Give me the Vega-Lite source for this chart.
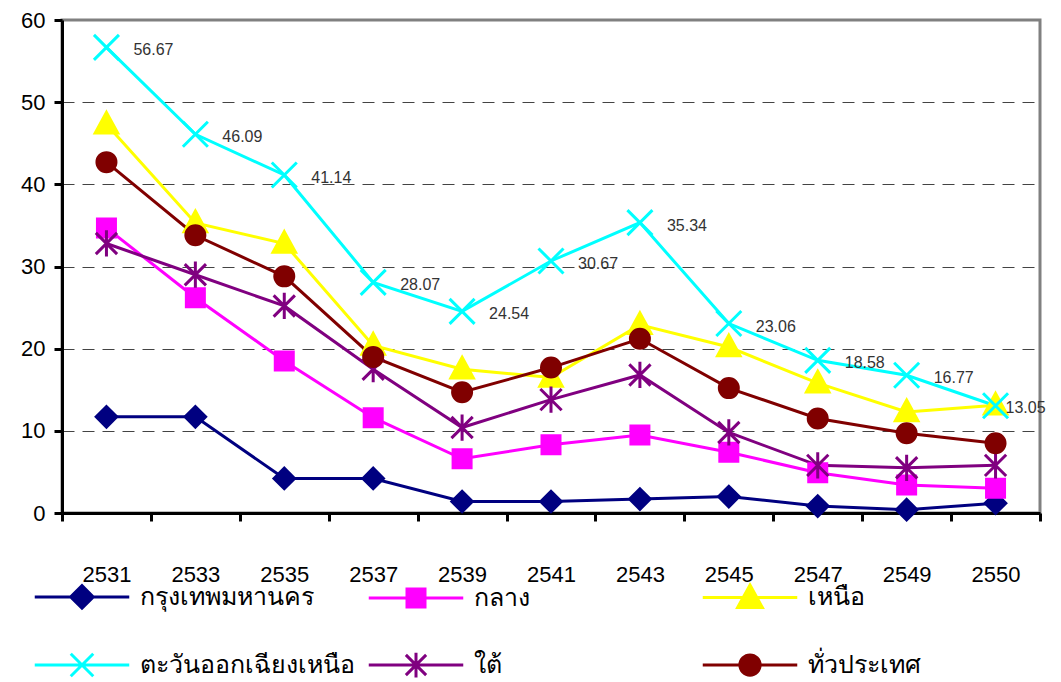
{
  "$schema": "https://vega.github.io/schema/vega-lite/v6.json",
  "width": 978,
  "height": 493,
  "autosize": {"type": "none"},
  "padding": {"left": 62, "top": 20, "right": 21, "bottom": 169},
  "background": "white",
  "config": {"font": "Liberation Sans", "view": {"stroke": "#808080", "strokeWidth": 3}},
  "data": {"values": [
    {"year": "2531", "region": "กรุงเทพมหานคร", "value": 11.7},
    {"year": "2533", "region": "กรุงเทพมหานคร", "value": 11.7},
    {"year": "2535", "region": "กรุงเทพมหานคร", "value": 4.2},
    {"year": "2537", "region": "กรุงเทพมหานคร", "value": 4.2},
    {"year": "2539", "region": "กรุงเทพมหานคร", "value": 1.4},
    {"year": "2541", "region": "กรุงเทพมหานคร", "value": 1.4},
    {"year": "2543", "region": "กรุงเทพมหานคร", "value": 1.7},
    {"year": "2545", "region": "กรุงเทพมหานคร", "value": 2.0},
    {"year": "2547", "region": "กรุงเทพมหานคร", "value": 0.85},
    {"year": "2549", "region": "กรุงเทพมหานคร", "value": 0.4},
    {"year": "2550", "region": "กรุงเทพมหานคร", "value": 1.2},
    {"year": "2531", "region": "กลาง", "value": 34.7},
    {"year": "2533", "region": "กลาง", "value": 26.2},
    {"year": "2535", "region": "กลาง", "value": 18.5},
    {"year": "2537", "region": "กลาง", "value": 11.6},
    {"year": "2539", "region": "กลาง", "value": 6.6},
    {"year": "2541", "region": "กลาง", "value": 8.3},
    {"year": "2543", "region": "กลาง", "value": 9.5},
    {"year": "2545", "region": "กลาง", "value": 7.4},
    {"year": "2547", "region": "กลาง", "value": 4.9},
    {"year": "2549", "region": "กลาง", "value": 3.4},
    {"year": "2550", "region": "กลาง", "value": 3.0},
    {"year": "2531", "region": "เหนือ", "value": 47.3},
    {"year": "2533", "region": "เหนือ", "value": 35.3},
    {"year": "2535", "region": "เหนือ", "value": 32.8},
    {"year": "2537", "region": "เหนือ", "value": 20.4},
    {"year": "2539", "region": "เหนือ", "value": 17.5},
    {"year": "2541", "region": "เหนือ", "value": 16.5},
    {"year": "2543", "region": "เหนือ", "value": 22.9},
    {"year": "2545", "region": "เหนือ", "value": 20.2},
    {"year": "2547", "region": "เหนือ", "value": 15.8},
    {"year": "2549", "region": "เหนือ", "value": 12.3},
    {"year": "2550", "region": "เหนือ", "value": 13.1},
    {"year": "2531", "region": "ตะวันออกเฉียงเหนือ", "value": 56.67},
    {"year": "2533", "region": "ตะวันออกเฉียงเหนือ", "value": 46.09},
    {"year": "2535", "region": "ตะวันออกเฉียงเหนือ", "value": 41.14},
    {"year": "2537", "region": "ตะวันออกเฉียงเหนือ", "value": 28.07},
    {"year": "2539", "region": "ตะวันออกเฉียงเหนือ", "value": 24.54},
    {"year": "2541", "region": "ตะวันออกเฉียงเหนือ", "value": 30.67},
    {"year": "2543", "region": "ตะวันออกเฉียงเหนือ", "value": 35.34},
    {"year": "2545", "region": "ตะวันออกเฉียงเหนือ", "value": 23.06},
    {"year": "2547", "region": "ตะวันออกเฉียงเหนือ", "value": 18.58},
    {"year": "2549", "region": "ตะวันออกเฉียงเหนือ", "value": 16.77},
    {"year": "2550", "region": "ตะวันออกเฉียงเหนือ", "value": 13.05},
    {"year": "2531", "region": "ใต้", "value": 32.8},
    {"year": "2533", "region": "ใต้", "value": 29.0},
    {"year": "2535", "region": "ใต้", "value": 25.2},
    {"year": "2537", "region": "ใต้", "value": 17.5},
    {"year": "2539", "region": "ใต้", "value": 10.4},
    {"year": "2541", "region": "ใต้", "value": 13.8},
    {"year": "2543", "region": "ใต้", "value": 16.8},
    {"year": "2545", "region": "ใต้", "value": 9.8},
    {"year": "2547", "region": "ใต้", "value": 5.8},
    {"year": "2549", "region": "ใต้", "value": 5.5},
    {"year": "2550", "region": "ใต้", "value": 5.8},
    {"year": "2531", "region": "ทั่วประเทศ", "value": 42.7},
    {"year": "2533", "region": "ทั่วประเทศ", "value": 33.8},
    {"year": "2535", "region": "ทั่วประเทศ", "value": 28.8},
    {"year": "2537", "region": "ทั่วประเทศ", "value": 19.0},
    {"year": "2539", "region": "ทั่วประเทศ", "value": 14.7},
    {"year": "2541", "region": "ทั่วประเทศ", "value": 17.7},
    {"year": "2543", "region": "ทั่วประเทศ", "value": 21.2},
    {"year": "2545", "region": "ทั่วประเทศ", "value": 15.2},
    {"year": "2547", "region": "ทั่วประเทศ", "value": 11.5},
    {"year": "2549", "region": "ทั่วประเทศ", "value": 9.7},
    {"year": "2550", "region": "ทั่วประเทศ", "value": 8.5}
  ]},
  "encoding": {
    "x": {
      "field": "year", "type": "ordinal",
      "scale": {"type": "band", "paddingInner": 0, "paddingOuter": 0},
      "axis": {"title": null, "tickBand": "extent", "tickSize": 8, "tickWidth": 3, "tickColor": "black", "domainColor": "black", "domainWidth": 3, "labelFontSize": 22, "labelColor": "black", "labelPadding": 43, "labelAngle": 0, "grid": false}
    },
    "y": {
      "field": "value", "type": "quantitative",
      "scale": {"domain": [0, 60], "nice": false},
      "axis": {"title": null, "values": [0, 10, 20, 30, 40, 50, 60], "tickSize": 8, "tickWidth": 3, "tickColor": "black", "domainColor": "black", "domainWidth": 3, "labelFontSize": 22, "labelColor": "black", "labelPadding": 9, "grid": true, "gridDash": [12, 8], "gridColor": {"condition": {"test": "datum.value === 60 || datum.value === 0", "value": "transparent"}, "value": "#444444"}, "gridWidth": 1}
    },
    "color": {
      "field": "region", "type": "nominal",
      "scale": {
        "domain": ["กรุงเทพมหานคร", "กลาง", "เหนือ", "ตะวันออกเฉียงเหนือ", "ใต้", "ทั่วประเทศ"],
        "range": ["#000080", "#FF00FF", "#FFFF00", "#00FFFF", "#800080", "#800000"]
      },
      "legend": {
        "title": null, "orient": "none", "legendX": -4, "legendY": 552,
        "direction": "horizontal", "columns": 3, "gridAlign": "all",
        "columnPadding": 7, "rowPadding": 26, "padding": 0,
        "symbolSize": 2025, "labelFontSize": 25, "labelColor": "black", "labelOffset": 34, "labelLimit": 400,
        "encode": {"symbols": {"update": {
          "shape": {"signal": "['M-2.1,0H2.1M-0.5,0L0,-0.5L0.5,0L0,0.5Z', 'M-2.1,0H2.1M-0.4,-0.4H0.4V0.4H-0.4Z', 'M-2.1,0H2.1M0,-0.55L0.55,0.45H-0.55Z', 'M-2.1,0H2.1M-0.5,-0.5L0.5,0.5M-0.5,0.5L0.5,-0.5', 'M-2.1,0H2.1M0,-0.55V0.55M-0.45,-0.45L0.45,0.45M-0.45,0.45L0.45,-0.45', 'M-2.1,0H2.1M-0.45,0A0.45,0.45 0 1,0 0.45,0A0.45,0.45 0 1,0 -0.45,0Z'][indexof(['กรุงเทพมหานคร', 'กลาง', 'เหนือ', 'ตะวันออกเฉียงเหนือ', 'ใต้', 'ทั่วประเทศ'], datum.value)]"},
          "fill": {"signal": "scale('color', datum.value)"},
          "stroke": {"signal": "scale('color', datum.value)"},
          "strokeWidth": {"value": 3},
          "opacity": {"value": 1}
        }}}
      }
    }
  },
  "layer": [
    {"mark": {"type": "line", "strokeWidth": 3}},
    {
      "transform": [{"filter": "datum.region === 'กรุงเทพมหานคร'"}],
      "mark": {"type": "point", "filled": true, "size": 625, "strokeWidth": 3, "opacity": 1, "stroke": "#000080", "shape": "M-0.82,0L0,-0.82L0.82,0L0,0.82Z"}
    },
    {
      "transform": [{"filter": "datum.region === 'กลาง'"}],
      "mark": {"type": "point", "filled": true, "size": 625, "strokeWidth": 3, "opacity": 1, "stroke": "#FF00FF", "shape": "M-0.72,-0.72H0.72V0.72H-0.72Z"}
    },
    {
      "transform": [{"filter": "datum.region === 'เหนือ'"}],
      "mark": {"type": "point", "filled": true, "size": 625, "strokeWidth": 3, "opacity": 1, "stroke": "#FFFF00", "shape": "M0,-0.95L0.9,0.7H-0.9Z"}
    },
    {
      "transform": [{"filter": "datum.region === 'ตะวันออกเฉียงเหนือ'"}],
      "mark": {"type": "point", "filled": true, "size": 625, "strokeWidth": 3, "opacity": 1, "stroke": "#00FFFF", "shape": "M-1,-1L1,1M-1,1L1,-1"}
    },
    {
      "transform": [{"filter": "datum.region === 'ใต้'"}],
      "mark": {"type": "point", "filled": true, "size": 625, "strokeWidth": 3, "opacity": 1, "stroke": "#800080", "shape": "M0,-1.05V1.05M-0.85,-0.85L0.85,0.85M-0.85,0.85L0.85,-0.85"}
    },
    {
      "transform": [{"filter": "datum.region === 'ทั่วประเทศ'"}],
      "mark": {"type": "point", "filled": true, "size": 625, "strokeWidth": 3, "opacity": 1, "stroke": "#800000", "shape": "M-0.76,0A0.76,0.76 0 1,0 0.76,0A0.76,0.76 0 1,0 -0.76,0Z"}
    },
    {
      "transform": [{"filter": "datum.region === 'ตะวันออกเฉียงเหนือ' && datum.year !== '2550'"}],
      "mark": {"type": "text", "align": "left", "baseline": "middle", "dx": 27, "dy": 3, "fontSize": 16},
      "encoding": {"text": {"field": "value", "type": "quantitative", "format": ".2f"}, "color": {"value": "#333333"}}
    },
    {
      "transform": [{"filter": "datum.region === 'ตะวันออกเฉียงเหนือ' && datum.year === '2550'"}],
      "mark": {"type": "text", "align": "left", "baseline": "middle", "dx": 10, "dy": 2, "fontSize": 16},
      "encoding": {"text": {"field": "value", "type": "quantitative", "format": ".2f"}, "color": {"value": "#333333"}}
    }
  ]
}
